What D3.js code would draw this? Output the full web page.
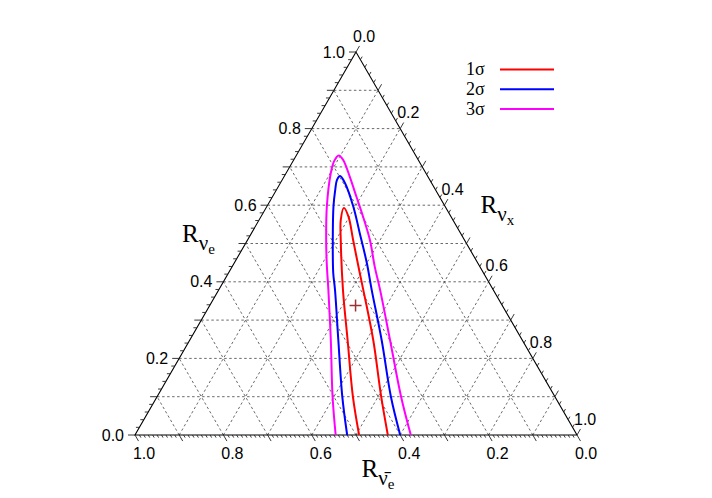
<!DOCTYPE html>
<html><head><meta charset="utf-8">
<script src="https://cdn.jsdelivr.net/npm/d3@7"></script>
<style>body{margin:0;background:#fff}svg{display:block}</style>
</head><body>
<svg id="chart" width="712" height="498"></svg>
<script>
// ---- data (ternary fractions; R_nuebar = 1 - R_nue - R_nux) ----
const tickLabels = ["0.0","0.2","0.4","0.6","0.8","1.0"];
const tickValues = [0, 0.2, 0.4, 0.6, 0.8, 1.0];
const sigmaLabels = ["1\u03c3","2\u03c3","3\u03c3"];
const sigmaColors = ["#ff0000","#0000ff","#ff00ff"];
// 1 sigma
const s1_Rnue = [0, 0.100, 0.248, 0.379, 0.509, 0.561, 0.593, 0.570, 0.509, 0.423, 0.379, 0.248, 0.100, 0];
const s1_Rnux = [0.507, 0.443, 0.357, 0.281, 0.211, 0.185, 0.176, 0.198, 0.239, 0.297, 0.327, 0.415, 0.507, 0.572];
// 2 sigma
const s2_Rnue = [0, 0.100, 0.248, 0.379, 0.423, 0.509, 0.596, 0.640, 0.666, 0.676, 0.658, 0.596, 0.527, 0.449, 0.379, 0.248, 0.100, 0];
const s2_Rnux = [0.480, 0.419, 0.336, 0.263, 0.237, 0.193, 0.151, 0.133, 0.124, 0.126, 0.146, 0.196, 0.245, 0.300, 0.346, 0.434, 0.529, 0.600];
// 3 sigma
const s3_Rnue = [0, 0.100, 0.248, 0.379, 0.444, 0.509, 0.596, 0.684, 0.715, 0.730, 0.718, 0.674, 0.622, 0.570, 0.509, 0.439, 0.379, 0.248, 0.100, 0];
const s3_Rnux = [0.454, 0.397, 0.319, 0.248, 0.212, 0.178, 0.136, 0.101, 0.093, 0.096, 0.112, 0.149, 0.190, 0.231, 0.277, 0.323, 0.365, 0.453, 0.552, 0.624];
// best fit point
const bestFit = {Rnue: 0.338, Rnux: 0.330};

// ---- layout ----
const svg = d3.select("#chart");
const xs = d3.scaleLinear().domain([0,1]).range([135,577]);
const ys = d3.scaleLinear().domain([0,1]).range([435,52]);
const P = (e, x) => [xs(x + e/2), ys(e)];

const SANS = "'Liberation Sans', Arial, sans-serif";
const SERIF = "'Liberation Serif', 'Times New Roman', serif";

// grid
const gridG = svg.append("g").attr("stroke","#444").attr("stroke-width",0.8)
  .attr("stroke-dasharray","2.5,2.5").attr("fill","none");
const gv = d3.range(1,10).map(i => i/10);
gv.forEach(v => {
  const segs = [
    [P(v,0), P(v,1-v)],          // R_nue const
    [P(0,v), P(1-v,v)],          // R_nux const
    [P(0,1-v), P(1-v,0)]         // R_nuebar const
  ];
  segs.forEach(s => gridG.append("line")
    .attr("x1",s[0][0]).attr("y1",s[0][1]).attr("x2",s[1][0]).attr("y2",s[1][1]));
});

// triangle
svg.append("path")
  .attr("d", d3.line()([P(1,0), P(0,0), P(0,1)]) + "Z")
  .attr("fill","none").attr("stroke","#000").attr("stroke-width",1.1);

// ticks
const tickG = svg.append("g").attr("stroke","#222").attr("stroke-width",0.9);
const c = Math.sqrt(3)/2;
function tick(p, dir, len){
  tickG.append("line").attr("x1",p[0]).attr("y1",p[1])
    .attr("x2",p[0]+dir[0]*len).attr("y2",p[1]+dir[1]*len);
}
const isMajor = (i, n) => i % n === 0;
// left axis (R_nue), step 0.02
d3.range(0,51).forEach(i => { const v=i/50; tick(P(v,0), [-1,0], isMajor(i,5)?7:3.5); });
// right axis (R_nux), step 0.02
d3.range(0,51).forEach(i => { const v=i/50; tick(P(1-v,v), [0.5,-c], isMajor(i,5)?7:3.5); });
// bottom axis (R_nuebar), step 0.01
d3.range(0,101).forEach(i => { const v=i/100; tick(P(0,1-v), [0.5,c], isMajor(i,10)?7:3); });

// tick labels
const labG = svg.append("g").attr("font-family",SANS).attr("font-size",16).attr("fill","#000");
tickValues.forEach((v,i) => {
  const pl = P(v,0);
  labG.append("text").attr("x",pl[0]-11).attr("y",pl[1]).attr("dy","0.35em")
    .attr("text-anchor","end").text(tickLabels[i]);
  const pr = P(1-v,v);
  labG.append("text").attr("x",pr[0]-3).attr("y",pr[1]-16).attr("dy","0.35em")
    .attr("text-anchor","start").text(tickLabels[i]);
  const pb = P(0,1-v);
  labG.append("text").attr("x",pb[0]+9).attr("y",453).attr("dy","0.35em")
    .attr("text-anchor","middle").text(tickLabels[i]);
});

// axis titles
function title(x, y, sub1, sub2){
  const t = svg.append("text").attr("x",x).attr("y",y)
    .attr("font-family",SERIF).attr("font-size",25).attr("fill","#000");
  t.append("tspan").text("R");
  t.append("tspan").attr("font-size",21).attr("dy",8).text(sub1);
  t.append("tspan").attr("font-size",15).attr("dy",4).text(sub2);
  return t;
}
title(182, 242, "\u03bd", "e");
title(480.5, 213, "\u03bd", "x");
title(361.5, 477, "\u03bd\u0304", "e");

// contours
const line = d3.line().curve(d3.curveCatmullRom.alpha(0.5));
const contours = [[s1_Rnue,s1_Rnux],[s2_Rnue,s2_Rnux],[s3_Rnue,s3_Rnux]];
contours.forEach((cc,k) => {
  const pts = cc[0].map((e,i) => P(e, cc[1][i]));
  svg.append("path").attr("d", line(pts)).attr("fill","none")
    .attr("stroke", sigmaColors[k]).attr("stroke-width",2);
});

// best-fit cross
const bf = P(bestFit.Rnue, bestFit.Rnux);
svg.append("path").attr("d",`M${bf[0]-6},${bf[1]}H${bf[0]+6}M${bf[0]},${bf[1]-6}V${bf[1]+6}`)
  .attr("stroke","#993333").attr("stroke-width",1.5);

// legend
sigmaLabels.forEach((s,k) => {
  const y = 69.5 + k*19.7;
  svg.append("text").attr("x",466).attr("y",y).attr("dy","0.33em")
    .attr("font-family",SERIF).attr("font-size",18).text(s);
  svg.append("line").attr("x1",500).attr("x2",554).attr("y1",y).attr("y2",y)
    .attr("stroke",sigmaColors[k]).attr("stroke-width",2);
});
</script>
</body></html>
